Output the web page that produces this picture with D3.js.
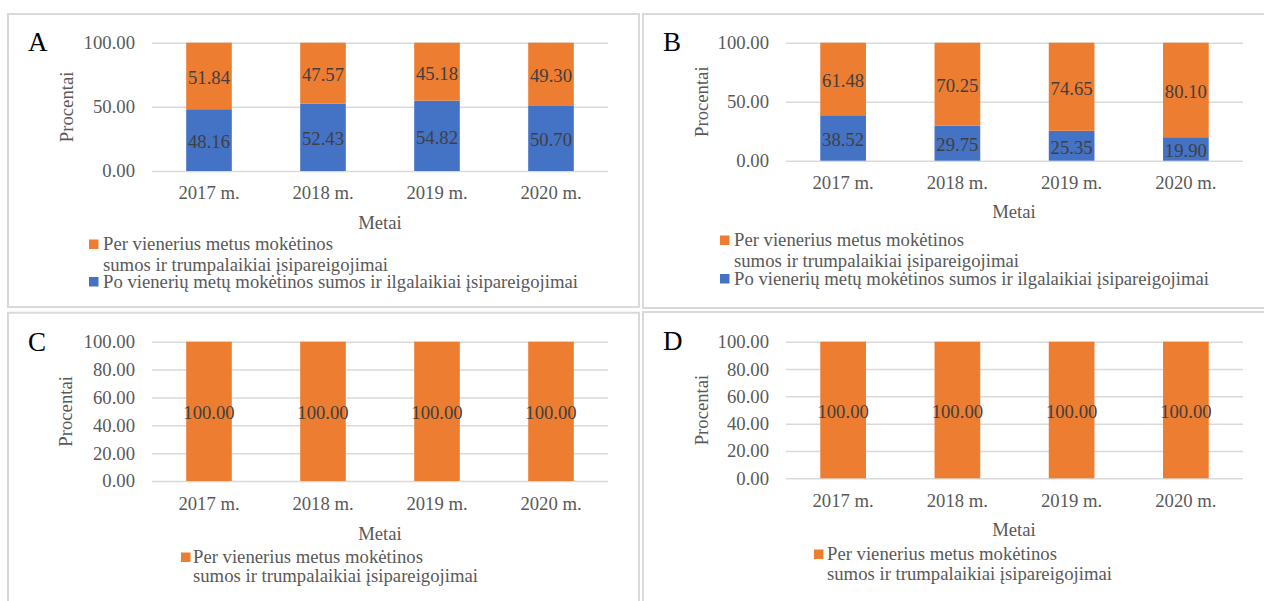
<!DOCTYPE html>
<html>
<head>
<meta charset="utf-8">
<script src="https://cdn.jsdelivr.net/npm/d3@7"></script>
<style>
  html, body { margin: 0; padding: 0; background: #ffffff; }
  svg { display: block; }
  text { font-family: "Liberation Serif", "Times New Roman", serif; }
</style>
</head>
<body>
<svg id="chart" width="1264" height="601"></svg>
<script>
// Categories and series values (percent shares of liabilities)
const years = ["2017 m.", "2018 m.", "2019 m.", "2020 m."];
const shortTermA = [51.84, 47.57, 45.18, 49.30];
const longTermA  = [48.16, 52.43, 54.82, 50.70];
const shortTermB = [61.48, 70.25, 74.65, 80.10];
const longTermB  = [38.52, 29.75, 25.35, 19.90];
const shortTermC = [100.00, 100.00, 100.00, 100.00];
const shortTermD = [100.00, 100.00, 100.00, 100.00];
const ticksAB = [0, 50, 100];
const ticksCD = [0, 20, 40, 60, 80, 100];
const panelLetters = ["A", "B", "C", "D"];

const seriesShort = { key: "short", name: ["Per vienerius metus mokėtinos", "sumos ir trumpalaikiai įsipareigojimai"], color: "#ED7D31" };
const seriesLong  = { key: "long",  name: ["Po vienerių metų mokėtinos sumos ir ilgalaikiai įsipareigojimai"], color: "#4472C4" };
const yTitle = "Procentai";
const xTitle = "Metai";

// Per-panel layout
const panels = [
  { letter: panelLetters[0], series: [[seriesLong, longTermA], [seriesShort, shortTermA]], ticks: ticksAB,
    frame: [8, 14, 631, 293], plot: [152, 608, 42.7, 171], letterPos: [28, 51], yTitleX: 67,
    xLabelY: 199, metai: [380, 229],
    legend: { sqX: 89, textX: 103, y: 250, gap: 21, order: [seriesShort, seriesLong], nextY: 287.5 } },
  { letter: panelLetters[1], series: [[seriesLong, longTermB], [seriesShort, shortTermB]], ticks: ticksAB,
    frame: [643, 14, 630, 294], plot: [786, 1243, 42.7, 160.7], letterPos: [663, 51], yTitleX: 702,
    xLabelY: 189, metai: [1014, 218],
    legend: { sqX: 720, textX: 734, y: 246, gap: 21, order: [seriesShort, seriesLong], nextY: 284.5 } },
  { letter: panelLetters[2], series: [[seriesShort, shortTermC]], ticks: ticksCD,
    frame: [8, 312.7, 631, 300], plot: [152, 608, 341.7, 481], letterPos: [28, 351], yTitleX: 66,
    xLabelY: 510, metai: [380, 540],
    legend: { sqX: 181, textX: 193, y: 563, gap: 18.5, order: [seriesShort] } },
  { letter: panelLetters[3], series: [[seriesShort, shortTermD]], ticks: ticksCD,
    frame: [643, 312, 630, 300], plot: [786, 1243, 341.7, 478.3], letterPos: [663, 350], yTitleX: 702,
    xLabelY: 507, metai: [1014, 536],
    legend: { sqX: 814, textX: 827, y: 560, gap: 20, order: [seriesShort] } }
];

const svg = d3.select("#chart");
const fmt = d3.format(".2f");
const FS = 18.7;

panels.forEach(p => {
  const g = svg.append("g");

  // panel frame
  g.append("rect")
    .attr("x", p.frame[0]).attr("y", p.frame[1])
    .attr("width", p.frame[2]).attr("height", p.frame[3])
    .attr("fill", "none").attr("stroke", "#d9d9d9").attr("stroke-width", 2);

  const [x0, x1, yTop, yBot] = p.plot;
  const x = d3.scaleBand().domain(years).range([x0, x1]).paddingInner(0.6).paddingOuter(0.3);
  const y = d3.scaleLinear().domain([0, 100]).range([yBot, yTop]);

  // gridlines + tick labels
  const yAxis = g.append("g")
    .attr("transform", `translate(${x0},0)`)
    .call(d3.axisLeft(y).tickValues(p.ticks).tickFormat(fmt).tickSize(-(x1 - x0)).tickPadding(17));
  yAxis.select(".domain").remove();
  yAxis.selectAll(".tick line").attr("stroke", "#d9d9d9").attr("stroke-width", 1.5);
  yAxis.selectAll(".tick text")
    .attr("fill", "#595959").attr("font-size", FS)
    .style("font-family", "'Liberation Serif', serif");

  // stacked bars
  const rows = years.map((yr, i) => {
    const r = { year: yr };
    p.series.forEach(([s, vals]) => { r[s.key] = vals[i]; });
    return r;
  });
  const keys = p.series.map(([s]) => s.key);
  const colorOf = {};
  p.series.forEach(([s]) => { colorOf[s.key] = s.color; });
  const stacked = d3.stack().keys(keys)(rows);

  stacked.forEach(layer => {
    const lg = g.append("g");
    lg.selectAll("rect").data(layer).join("rect")
      .attr("x", d => x(d.data.year))
      .attr("width", x.bandwidth())
      .attr("y", d => y(d[1]))
      .attr("height", d => y(d[0]) - y(d[1]))
      .attr("fill", colorOf[layer.key]);
    lg.selectAll("text").data(layer).join("text")
      .attr("x", d => x(d.data.year) + x.bandwidth() / 2)
      .attr("y", d => (y(d[0]) + y(d[1])) / 2 + 8)
      .attr("text-anchor", "middle")
      .attr("font-size", FS)
      .attr("fill", "#404040")
      .text(d => fmt(d.data[layer.key]));
  });

  // category labels
  const xAxis = g.append("g")
    .attr("transform", `translate(0,${p.xLabelY})`)
    .call(d3.axisBottom(x).tickSize(0).tickPadding(0));
  xAxis.select(".domain").remove();
  xAxis.selectAll(".tick text")
    .attr("dy", 0).attr("y", 0)
    .attr("fill", "#595959").attr("font-size", FS)
    .style("font-family", "'Liberation Serif', serif");

  // axis titles
  g.append("text")
    .attr("transform", `translate(${p.yTitleX + 6},${(yTop + yBot) / 2}) rotate(-90)`)
    .attr("text-anchor", "middle").attr("font-size", FS).attr("fill", "#595959")
    .text(yTitle);
  g.append("text")
    .attr("x", p.metai[0]).attr("y", p.metai[1])
    .attr("text-anchor", "middle").attr("font-size", FS).attr("fill", "#595959")
    .text(xTitle);

  // panel letter
  g.append("text")
    .attr("x", p.letterPos[0]).attr("y", p.letterPos[1])
    .attr("font-size", 27).attr("fill", "#000000")
    .text(p.letter);

  // legend
  const L = p.legend;
  let cy = L.y;
  L.order.forEach((s, si) => {
    if (si > 0 && L.nextY) cy = L.nextY;
    g.append("rect")
      .attr("x", L.sqX).attr("y", cy - 10.5)
      .attr("width", 9.5).attr("height", 9.5)
      .attr("fill", s.color);
    s.name.forEach((line, li) => {
      g.append("text")
        .attr("x", L.textX).attr("y", cy + li * L.gap)
        .attr("font-size", FS).attr("fill", "#595959")
        .text(line);
    });
  });
});
</script>
</body>
</html>
